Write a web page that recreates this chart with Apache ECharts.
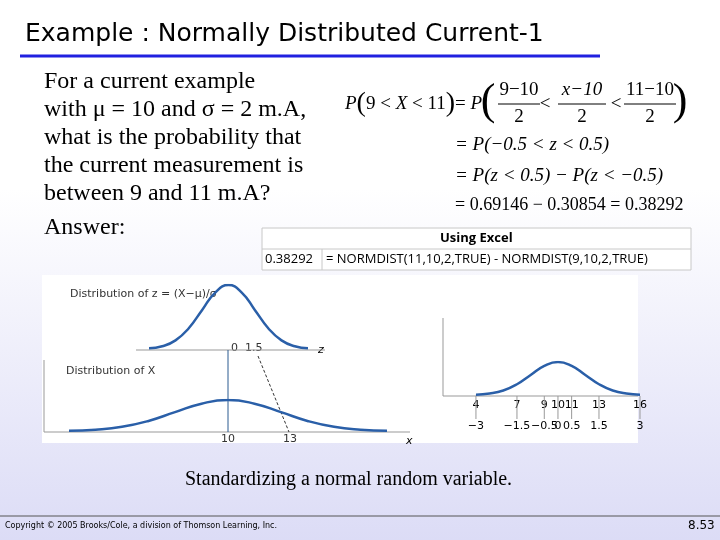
<!DOCTYPE html><html><head><meta charset="utf-8">
<script src="https://cdn.jsdelivr.net/npm/echarts@6/dist/echarts.min.js"></script>
<style>html,body{margin:0;padding:0}#c{width:720px;height:540px}</style></head><body><div id="c"></div>
<script>
const zX=[-3,-2.5,-2,-1.5,-1,-0.5,0,0.5,1,1.5,2,2.5,3];
const zY=[0.011,0.044,0.135,0.325,0.607,0.882,1,0.882,0.607,0.325,0.135,0.044,0.011];
const xX=[-2,0,2,4,6,8,10,12,14,16,18,20,22];
const xY=[0.011,0.044,0.135,0.325,0.607,0.882,1,0.882,0.607,0.325,0.135,0.044,0.011];
const rX=[4,5,6,7,8,9,10,11,12,13,14,15,16];
const rY=[0.011,0.044,0.135,0.325,0.607,0.882,1,0.882,0.607,0.325,0.135,0.044,0.011];
const xTickVals=[4,7,9,10,11,13,16];
const xTicks=['4','7','9','10','11','13','16'];
const zTicks=['\u22123','\u22121.5','\u22120.5','0','0.5','1.5','3'];
const ch=echarts.init(document.getElementById('c'));
const T='Liberation Serif';
function t(x,y,s,o){return {type:'text',left:x,top:y,style:Object.assign({text:s,font:'24px '+T,fill:'#000'},o||{})}}
function c(x,y,s,f){return {type:'text',x:x,y:y,style:{text:s,font:f,fill:'#000',align:'center',verticalAlign:'middle'}}}
const SM='11px "DejaVu Sans"';
const FI='italic 19px '+T, FR='19px '+T;
const g=[
{type:'rect',shape:{x:0,y:0,width:720,height:540},style:{fill:new echarts.graphic.LinearGradient(0,0,0,1,[{offset:0,color:'#ffffff'},{offset:0.35,color:'#ffffff'},{offset:1,color:'#dcdcf6'}])},z:-10},
{type:'text',left:25,top:22,style:{text:'Example : Normally Distributed Current-1',font:'25px "DejaVu Sans"',fill:'#000'}},
{type:'line',shape:{x1:20,y1:56,x2:600,y2:56},style:{stroke:'#2020e0',lineWidth:3}},
t(44,70,'For a current example'),t(44,98,'with \u03bc = 10 and \u03c3 = 2 m.A,'),t(44,126,'what is the probability that'),
t(44,154,'the current measurement is'),t(44,182,'between 9 and 11 m.A?'),t(44,216,'Answer:'),
{type:'text',left:345,top:90,style:{rich:{i:{font:FI},r:{font:FR},b:{font:'28px '+T}},text:'{i|P}{b|(}{r|9 < }{i|X}{r| < 11}{b|)}{r|= }{i|P}',fill:'#000'}},
c(488,102,'(', '44px '+T),c(680,102,')', '44px '+T),
c(519,90,'9\u221210',FR),c(582,90,'x\u221210',FI),c(650,90,'11\u221210',FR),
c(519,117,'2',FR),c(582,117,'2',FR),c(650,117,'2',FR),
c(545,104,'<',FR),c(616,104,'<',FR),
{type:'line',shape:{x1:498,y1:104,x2:540,y2:104},style:{stroke:'#000'}},
{type:'line',shape:{x1:558,y1:104,x2:606,y2:104},style:{stroke:'#000'}},
{type:'line',shape:{x1:624,y1:104,x2:676,y2:104},style:{stroke:'#000'}},
t(455,135,'= P(\u22120.5 < z < 0.5)',{font:'italic 19px '+T}),
t(455,166,'= P(z < 0.5) \u2212 P(z < \u22120.5)',{font:'italic 19px '+T}),
t(455,196,'= 0.69146 \u2212 0.30854 = 0.38292',{font:'18px '+T}),
{type:'rect',shape:{x:262,y:228,width:429,height:42},style:{fill:'#fff',stroke:'#c8c8c8'}},
{type:'line',shape:{x1:262,y1:249,x2:691,y2:249},style:{stroke:'#c8c8c8'}},
{type:'line',shape:{x1:322,y1:249,x2:322,y2:270},style:{stroke:'#c8c8c8'}},
t(440,232,'Using Excel',{font:'bold 13px "Open Sans"'}),
t(265,253,'0.38292',{font:'13px "Open Sans"'}),
t(326,253,'= NORMDIST(11,10,2,TRUE) - NORMDIST(9,10,2,TRUE)',{font:'13px "Open Sans"'}),
{type:'rect',shape:{x:42,y:275,width:596,height:168},style:{fill:'#fff'},z:-1},
t(70,289,'Distribution of z = (X\u2212\u03bc)/\u03c3',{font:SM,fill:'#333'}),
t(66,366,'Distribution of X',{font:SM,fill:'#333'}),
t(231,343,'0  1.5',{font:SM,fill:'#333'}),t(318,345,'z',{font:'italic 11px "DejaVu Sans"'}),
t(221,434,'10',{font:SM,fill:'#333'}),t(283,434,'13',{font:SM,fill:'#333'}),
t(406,436,'x',{font:'italic 11px "DejaVu Sans"'}),
{type:'line',shape:{x1:136,y1:350,x2:325,y2:350},style:{stroke:'#999'}},
{type:'line',shape:{x1:44,y1:432,x2:410,y2:432},style:{stroke:'#999'}},
{type:'line',shape:{x1:228,y1:350,x2:228,y2:432},style:{stroke:'#2a5a90'}},
{type:'line',shape:{x1:258,y1:356,x2:289,y2:432},style:{stroke:'#333',lineDash:[3,2]}},
{type:'line',shape:{x1:44,y1:360,x2:44,y2:432},style:{stroke:'#999'}},
{type:'line',shape:{x1:443,y1:318,x2:443,y2:396},style:{stroke:'#999'}},
{type:'line',shape:{x1:443,y1:396,x2:638,y2:396},style:{stroke:'#999'}},
t(185,470,'Standardizing a normal random variable.',{font:'20px '+T}),
{type:'line',shape:{x1:0,y1:516,x2:720,y2:516},style:{stroke:'#555'}},
t(5,522,'Copyright \u00a9 2005 Brooks/Cole, a division of Thomson Learning, Inc.',{font:'8px "DejaVu Sans"'}),
t(688,520,'8.53',{font:'12px "DejaVu Sans"'})
];
xTickVals.forEach((v,i)=>{const px=443+(v-1.59)*13.67;g.push(c(px,405,xTicks[i],SM));g.push(c(px,426,zTicks[i],SM));g.push({type:'line',shape:{x1:px,y1:396,x2:px,y2:419},style:{stroke:'#999'}});});
const ax={type:'value',show:false};
const hx=(i,mn,mx)=>({type:'value',gridIndex:i,min:mn,max:mx,show:false});
const ln=(i,X,Y)=>({type:'line',xAxisIndex:i,yAxisIndex:i,data:X.map((x,k)=>[x,Y[k]]),smooth:true,symbol:'none',lineStyle:{color:'#2a5fa8',width:2.5},silent:true});
ch.setOption({animation:false,
grid:[{left:149,width:159,top:285,height:64},{left:69,width:318,top:400,height:31},{left:443,width:195,top:362,height:33}],
xAxis:[hx(0,-3,3),hx(1,-2,22),hx(2,1.59,15.85)],
yAxis:[Object.assign({gridIndex:0,min:0,max:1},ax),Object.assign({gridIndex:1,min:0,max:1},ax),Object.assign({gridIndex:2,min:0,max:1},ax)],
series:[ln(0,zX,zY),ln(1,xX,xY),ln(2,rX,rY)],
graphic:g});
</script></body></html>
